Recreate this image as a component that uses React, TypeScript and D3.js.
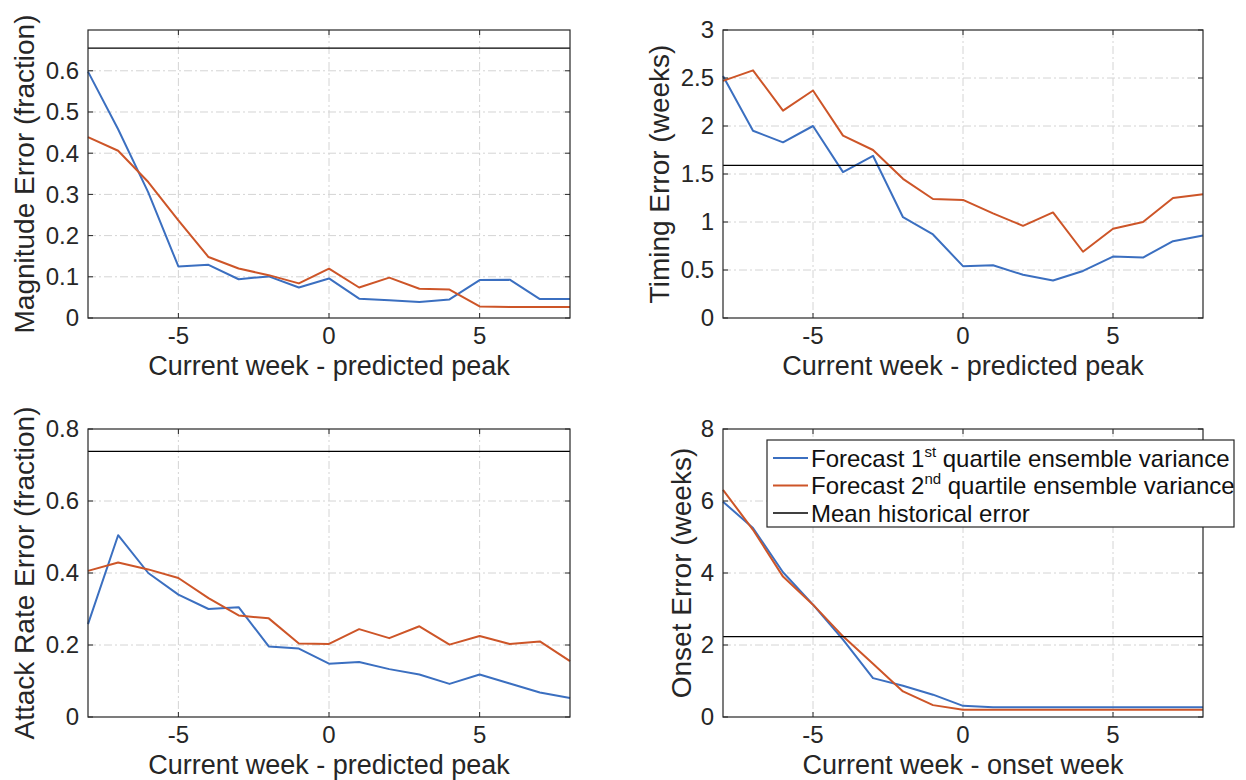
import React from "react";
import * as d3 from "d3";

const weeks = [-8, -7, -6, -5, -4, -3, -2, -1, 0, 1, 2, 3, 4, 5, 6, 7, 8];
const xTicks = [-5, 0, 5];

const magnitudeQ1 = [0.598, 0.458, 0.305, 0.125, 0.129, 0.094, 0.101, 0.074, 0.096, 0.047, 0.043, 0.039, 0.045, 0.092, 0.093, 0.046, 0.046];
const magnitudeQ2 = [0.439, 0.406, 0.33, 0.237, 0.148, 0.12, 0.104, 0.084, 0.12, 0.074, 0.098, 0.071, 0.069, 0.028, 0.027, 0.027, 0.027];
const magnitudeMean = 0.655;
const magnitudeTicks = [0, 0.1, 0.2, 0.3, 0.4, 0.5, 0.6];

const timingQ1 = [2.52, 1.95, 1.83, 2.0, 1.52, 1.69, 1.05, 0.87, 0.54, 0.55, 0.45, 0.39, 0.49, 0.64, 0.63, 0.8, 0.86];
const timingQ2 = [2.47, 2.58, 2.16, 2.37, 1.9, 1.75, 1.45, 1.24, 1.23, 1.09, 0.96, 1.1, 0.69, 0.93, 1.0, 1.25, 1.29];
const timingMean = 1.59;
const timingTicks = [0, 0.5, 1, 1.5, 2, 2.5, 3];

const attackQ1 = [0.258, 0.505, 0.4, 0.34, 0.3, 0.305, 0.196, 0.19, 0.148, 0.153, 0.133, 0.118, 0.092, 0.118, 0.093, 0.068, 0.053];
const attackQ2 = [0.406, 0.429, 0.41, 0.386, 0.33, 0.282, 0.274, 0.204, 0.203, 0.244, 0.219, 0.252, 0.201, 0.225, 0.203, 0.21, 0.155];
const attackMean = 0.738;
const attackTicks = [0, 0.2, 0.4, 0.6, 0.8];

const onsetQ1 = [5.98, 5.25, 4.02, 3.12, 2.15, 1.08, 0.87, 0.62, 0.31, 0.27, 0.27, 0.27, 0.27, 0.27, 0.27, 0.27, 0.27];
const onsetQ2 = [6.31, 5.2, 3.9, 3.12, 2.24, 1.48, 0.71, 0.33, 0.2, 0.2, 0.2, 0.2, 0.2, 0.2, 0.2, 0.2, 0.2];
const onsetMean = 2.23;
const onsetTicks = [0, 2, 4, 6, 8];

const legendLabels = [
  ["Forecast 1", "st", " quartile ensemble variance"],
  ["Forecast 2", "nd", " quartile ensemble variance"],
  ["Mean historical error", "", ""],
];

const BLUE = "#3b6fc0";
const ORANGE = "#cd5528";
const AXIS = "#262626";
const GRID = "#d4d4d4";
const FONT = "'Liberation Sans', Arial, Helvetica, sans-serif";

type PanelProps = {
  x0: number; x1: number; y0: number; y1: number;
  yMax: number; yTicks: number[]; q1: number[]; q2: number[]; mean: number;
  yLabel: string; xLabel: string; yLabelX: number; legend?: boolean;
};

function Panel(p: PanelProps) {
  const x = d3.scaleLinear().domain([-8, 8]).range([p.x0, p.x1]);
  const y = d3.scaleLinear().domain([0, p.yMax]).range([p.y1, p.y0]);
  const line = d3.line<number>().x((_, i) => x(weeks[i])).y((v) => y(v));
  const tick = 5;
  const yc = (p.y0 + p.y1) / 2;
  const xc = (p.x0 + p.x1) / 2;
  return (
    <g>
      {xTicks.map((t) => (
        <line key={"gx" + t} x1={x(t)} x2={x(t)} y1={p.y0} y2={p.y1} stroke={GRID} strokeWidth={1} strokeDasharray="8,3,2,3" />
      ))}
      {p.yTicks.filter((t) => t > 0 && y(t) > p.y0 + 1).map((t) => (
        <line key={"gy" + t} x1={p.x0} x2={p.x1} y1={y(t)} y2={y(t)} stroke={GRID} strokeWidth={1} strokeDasharray="8,3,2,3" />
      ))}
      <path d={line(p.q1) || ""} fill="none" stroke={BLUE} strokeWidth={2} strokeLinejoin="round" />
      <path d={line(p.q2) || ""} fill="none" stroke={ORANGE} strokeWidth={2} strokeLinejoin="round" />
      <line x1={p.x0} x2={p.x1} y1={y(p.mean)} y2={y(p.mean)} stroke="#000" strokeWidth={1.3} />
      <rect x={p.x0} y={p.y0} width={p.x1 - p.x0} height={p.y1 - p.y0} fill="none" stroke={AXIS} strokeWidth={1.2} />
      {xTicks.map((t) => (
        <g key={"tx" + t}>
          <line x1={x(t)} x2={x(t)} y1={p.y1} y2={p.y1 - tick} stroke={AXIS} strokeWidth={1} />
          <line x1={x(t)} x2={x(t)} y1={p.y0} y2={p.y0 + tick} stroke={AXIS} strokeWidth={1} />
          <text x={x(t)} y={p.y1 + 26} textAnchor="middle" fontSize={24} fill={AXIS} fontFamily={FONT}>{t}</text>
        </g>
      ))}
      {p.yTicks.map((t) => (
        <g key={"ty" + t}>
          <line x1={p.x0} x2={p.x0 + tick} y1={y(t)} y2={y(t)} stroke={AXIS} strokeWidth={1} />
          <line x1={p.x1} x2={p.x1 - tick} y1={y(t)} y2={y(t)} stroke={AXIS} strokeWidth={1} />
          <text x={p.x0 - 9} y={y(t)} dy="0.35em" textAnchor="end" fontSize={24} fill={AXIS} fontFamily={FONT}>{String(t)}</text>
        </g>
      ))}
      <text x={xc} y={p.y1 + 57} textAnchor="middle" fontSize={27} fill={AXIS} fontFamily={FONT}>{p.xLabel}</text>
      <text transform={`translate(${p.yLabelX},${yc}) rotate(-90)`} textAnchor="middle" dy="0.35em" fontSize={28} fill={AXIS} fontFamily={FONT}>{p.yLabel}</text>
      {p.legend && (
        <g>
          <rect x={767} y={440} width={467} height={87} fill="#fff" stroke={AXIS} strokeWidth={1.2} />
          {legendLabels.map((lab, i) => {
            const ry = 458 + i * 27.5;
            const col = i === 0 ? BLUE : i === 1 ? ORANGE : "#000";
            return (
              <g key={"lg" + i}>
                <line x1={773} x2={808} y1={ry} y2={ry} stroke={col} strokeWidth={i === 2 ? 1.3 : 2} />
                <text x={811} y={ry} dy="0.36em" fontSize={24} fill="#111" fontFamily={FONT}>
                  {lab[0]}
                  {lab[1] && <tspan fontSize={15} dy={-10}>{lab[1]}</tspan>}
                  {lab[2] && <tspan dy={10}>{lab[2]}</tspan>}
                </text>
              </g>
            );
          })}
        </g>
      )}
    </g>
  );
}

export default function App() {
  return (
    <svg width={1246} height={780} style={{ position: "absolute", left: 0, top: 0, background: "#fff" }}>
      <rect x={0} y={0} width={1246} height={780} fill="#fff" />
      <Panel x0={88} x1={570} y0={30} y1={318} yMax={0.699} yTicks={magnitudeTicks} q1={magnitudeQ1} q2={magnitudeQ2} mean={magnitudeMean}
        yLabel="Magnitude Error (fraction)" xLabel="Current week - predicted peak" yLabelX={24} />
      <Panel x0={723} x1={1203} y0={30} y1={318} yMax={3} yTicks={timingTicks} q1={timingQ1} q2={timingQ2} mean={timingMean}
        yLabel="Timing Error (weeks)" xLabel="Current week - predicted peak" yLabelX={659} />
      <Panel x0={88} x1={570} y0={429} y1={717} yMax={0.8} yTicks={attackTicks} q1={attackQ1} q2={attackQ2} mean={attackMean}
        yLabel="Attack Rate Error (fraction)" xLabel="Current week - predicted peak" yLabelX={24} />
      <Panel x0={723} x1={1203} y0={429} y1={717} yMax={8} yTicks={onsetTicks} q1={onsetQ1} q2={onsetQ2} mean={onsetMean}
        yLabel="Onset Error (weeks)" xLabel="Current week - onset week" yLabelX={681} legend />
    </svg>
  );
}
